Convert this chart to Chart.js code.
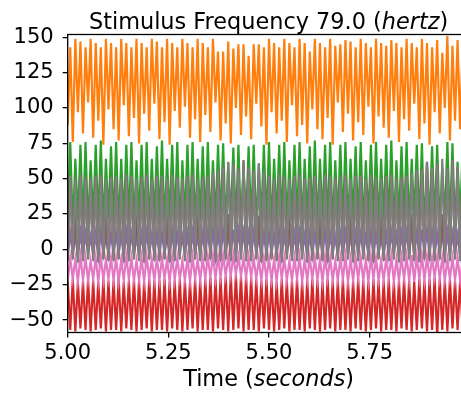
<!DOCTYPE html>
<html>
<head>
<meta charset="utf-8">
<script src="https://cdn.jsdelivr.net/npm/chart.js@4/dist/chart.umd.min.js"></script>
<style>
  html, body { margin: 0; padding: 0; background: #fff; overflow: hidden; }
  #wrap { width: 461px; height: 395px; overflow: hidden; }
</style>
</head>
<body>
<div id="wrap"><canvas id="stim" width="472" height="395"></canvas></div>
<script>
// sampling of the recorded traces
var startTime = 5.0;
var sampleRate = 158; // samples per second
var timeMin = 5.0, timeMax = 5.998;
var valueMin = -58.8, valueMax = 152;
var timeTicks = [5.00, 5.25, 5.50, 5.75];
var valueTicks = [-50, -25, 0, 25, 50, 75, 100, 125, 150];

// each trace is stored as its crest and trough values, one pair per cycle
var orangePeaks = [
  143,149,147,143,149,146,143,149,146,143,149,146,143,149,146,143,149,147,143,149,146,143,149,146,143,149,
  146,143,149,140,140,147,142,145,145,137,145,145,143,149,146,143,149,146,143,149,146,140,149,146,143,149,
  144,145,148,147,143,149,146,143,149,146,144,148,146,143,149,146,143,149,146,143,148,139,151,144,148,146
];
var orangeTroughs = [
  88,76,97,82,104,79,91,74,99,85,
  77,102,80,93,75,96,84,103,78,90,
  74,98,86,101,79,92,76,95,83,104,
  77,89,75,100,81,94,78,103,87,74,
  97,82,91,76,102,80,88,75,99,85,
  78,93,74,104,83,96,77,90,81,101,
  75,94,86,79,98,76,92,84,103,78,
  89,74,97,82,100,77,91,85
];
var greenPeaks = [
  76,64,74,76,63,74,77,64,73,76,
  64,74,76,63,74,76,64,73,77,64,
  74,76,63,74,76,64,73,76,63,74,
  75,61,72,74,58,73,74,60,74,76,
  64,74,76,63,74,76,64,73,77,64,
  74,76,63,74,76,64,73,76,63,74,
  76,64,74,77,63,73,76,64,74,75,
  60,73,74,58,76,75,62,74
];
var greenTroughs = [
  18,14,20,16,13,19,17,14,21,16,
  13,19,17,15,20,16,13,19,18,14,
  20,16,13,19,17,14,21,16,13,19,
  18,15,20,16,13,19,17,14,21,16,
  13,19,17,15,20,16,13,19,18,14,
  20,16,13,19,17,14,21,16,13,19,
  18,15,20,16,13,19,17,14,21,16,
  13,19,17,15,20,16,13,19
];
var redPeaks = [
  -22,-21,-23,-22,-21,-22,-23,-21,-22,-22,
  -21,-23,-22,-21,-22,-23,-21,-22,-22,-21,
  -23,-22,-21,-22,-23,-21,-22,-21,-20,-21,
  -20,-19,-18,-18,-19,-19,-20,-21,-22,-21,
  -22,-23,-21,-22,-22,-21,-23,-22,-21,-22,
  -23,-21,-22,-22,-21,-23,-22,-21,-22,-23,
  -21,-22,-22,-21,-23,-22,-21,-22,-23,-21,
  -22,-21,-20,-21,-22,-21,-22,-22
];
var redTroughs = [
  -57,-58,-56,-57,-58,-57,-56,-58,-57,-57,
  -58,-56,-57,-58,-57,-56,-58,-57,-57,-58,
  -56,-57,-58,-57,-56,-58,-57,-57,-58,-56,
  -57,-58,-57,-56,-58,-57,-57,-58,-56,-57,
  -58,-57,-56,-58,-57,-57,-58,-56,-57,-58,
  -57,-56,-58,-57,-57,-58,-56,-57,-58,-57,
  -56,-58,-57,-57,-58,-56,-57,-58,-57,-56,
  -58,-57,-61,-57,-58,-56,-57,-58
];
var purplePeaks = [
  11,10,12,11,9,11,12,10,11,11,
  10,12,11,9,11,12,10,11,11,10,
  12,11,9,11,12,10,11,12,13,12,
  13,12,14,13,12,11,12,10,11,11,
  10,12,11,9,11,12,10,11,11,10,
  12,11,9,11,12,10,11,11,10,12,
  11,9,11,12,10,11,12,13,12,14,
  13,12,11,13,12,11,10,11
];
var purpleTroughs = [
  -4,-3,-5,-4,-3,-4,-5,-3,-4,-4,
  -3,-5,-4,-3,-4,-5,-3,-4,-4,-3,
  -5,-4,-3,-4,-5,-3,-4,-4,-3,-5,
  -4,-3,-4,-5,-3,-4,-4,-3,-5,-4,
  -3,-4,-5,-3,-4,-4,-3,-5,-4,-3,
  -4,-5,-3,-4,-4,-3,-5,-4,-3,-4,
  -5,-3,-4,-4,-3,-5,-4,-3,-4,-5,
  -3,-4,-4,-3,-5,-4,-3,-4
];
var pinkPeaks = [
  -6,-7,-5,-6,-8,-6,-5,-7,-6,-6,
  -7,-5,-6,-8,-6,-5,-7,-6,-6,-7,
  -5,-6,-8,-6,-5,-7,-6,-5,-4,-5,
  -4,-5,-4,-5,-6,-5,-6,-7,-6,-6,
  -7,-5,-6,-8,-6,-5,-7,-6,-6,-7,
  -5,-6,-8,-6,-5,-7,-6,-6,-7,-5,
  -6,-8,-6,-5,-7,-6,-5,-4,-5,-4,
  -5,-6,-5,-6,-7,-6,-6,-7
];
var pinkTroughs = [
  -22,-21,-23,-22,-22,-21,-23,-22,-21,-22,
  -23,-22,-21,-22,-22,-23,-21,-22,-22,-21,
  -23,-22,-21,-22,-23,-21,-22,-21,-20,-21,
  -20,-19,-19,-18,-19,-20,-20,-21,-22,-21,
  -22,-23,-21,-22,-22,-21,-23,-22,-21,-22,
  -23,-21,-22,-22,-21,-23,-22,-21,-22,-23,
  -21,-22,-22,-21,-23,-22,-21,-22,-23,-21,
  -22,-21,-20,-21,-22,-21,-22,-22
];
var grayPeaks = [
  52,50,53,51,50,52,53,50,51,52,
  50,53,52,50,51,53,50,52,52,50,
  53,51,50,52,53,50,51,52,54,56,
  58,62,60,57,63,58,56,61,55,52,
  50,53,51,50,52,53,50,51,52,50,
  53,52,50,51,53,50,52,52,50,53,
  51,50,52,53,50,51,52,54,56,57,
  62,58,60,64,57,63,58,55
];
var grayTroughs = [
  -8,-7,-9,-8,-7,-8,-9,-7,-8,-8,
  -7,-9,-8,-7,-8,-9,-7,-8,-8,-7,
  -9,-8,-7,-8,-9,-7,-8,-8,-7,-9,
  -8,-7,-8,-9,-7,-8,-8,-7,-9,-8,
  -7,-8,-9,-7,-8,-8,-7,-9,-8,-7,
  -8,-9,-7,-8,-8,-7,-9,-8,-7,-8,
  -9,-7,-8,-8,-7,-9,-8,-7,-8,-9,
  -7,-8,-8,-7,-9,-8,-7,-8
];
// brown runs under the gray trace and only breaks away on some cycles
var brownPeaks = [
  52,25,53,51,50,52,53,25,51,52,
  50,53,52,24,51,53,50,52,52,25,
  53,51,50,52,53,26,51,52,54,56,
  58,25,60,57,63,58,56,24,55,52,
  50,53,51,25,52,53,50,51,52,25,
  53,52,50,51,53,24,52,52,50,53,
  51,26,52,53,50,51,52,25,56,57,
  62,58,60,25,57,63,58,55
];
var brownTroughs = [
  -8,-7,-9,-8,-7,-8,-9,-7,-8,-8,
  -7,-9,-8,-7,-8,-9,-7,-8,-8,-7,
  -9,-8,-7,-8,-9,-7,-8,-8,-7,-9,
  -8,-7,-8,-9,-7,-8,-8,-7,-9,-8,
  -7,-8,-9,-7,-8,-8,-7,-9,-8,-7,
  -8,-9,-7,-8,-8,-7,-9,-8,-7,-8,
  -9,-7,-8,-8,-7,-9,-8,-7,-8,-9,
  -7,-8,-8,-7,-9,-8,-7,-8
];

// even samples hold one list, odd samples the other
function interleave(evenVals, oddVals) {
  var pts = [];
  var n = evenVals.length + oddVals.length;
  for (var i = 0; i < n; i++) {
    var v = (i % 2 === 0) ? evenVals[i / 2] : oddVals[(i - 1) / 2];
    if (v === undefined) break;
    pts.push({x: startTime + i / sampleRate, y: v});
  }
  return pts;
}

// matplotlib draw order: first trace at the bottom
var traces = [
  {color: "#ff7f0e", data: interleave(orangeTroughs, orangePeaks)},
  {color: "#2ca02c", data: interleave(greenTroughs, greenPeaks)},
  {color: "#d62728", data: interleave(redPeaks, redTroughs)},
  {color: "#9467bd", data: interleave(purpleTroughs, purplePeaks)},
  {color: "#8c564b", data: interleave(brownTroughs, brownPeaks)},
  {color: "#e377c2", data: interleave(pinkTroughs, pinkPeaks)},
  {color: "#7f7f7f", data: interleave(grayTroughs, grayPeaks)}
];

var titleParts = [["Stimulus Frequency 79.0 (", false], ["hertz", true], [")", false]];
var xLabelParts = [["Time (", false], ["seconds", true], [")", false]];
var fontFamily = "'DejaVu Sans', sans-serif";

function drawRich(ctx, parts, cx, baseline, size) {
  var widths = [], total = 0;
  for (var i = 0; i < parts.length; i++) {
    ctx.font = (parts[i][1] ? "oblique " : "") + size + "px " + fontFamily;
    widths[i] = ctx.measureText(parts[i][0]).width;
    total += widths[i];
  }
  var x = cx - total / 2;
  ctx.fillStyle = "#000";
  ctx.textAlign = "left";
  ctx.textBaseline = "alphabetic";
  for (var j = 0; j < parts.length; j++) {
    ctx.font = (parts[j][1] ? "oblique " : "") + size + "px " + fontFamily;
    ctx.fillText(parts[j][0], x, baseline);
    x += widths[j];
  }
}

var frameAndTitles = {
  id: "frameAndTitles",
  afterDatasetsDraw: function(chart) {
    var ctx = chart.ctx, a = chart.chartArea;
    ctx.save();
    ctx.strokeStyle = "#000";
    ctx.lineWidth = 1.3;
    ctx.strokeRect(a.left, a.top, a.right - a.left, a.bottom - a.top);
    ctx.restore();
  },
  afterDraw: function(chart) {
    var ctx = chart.ctx, a = chart.chartArea;
    var cx = (a.left + a.right) / 2;
    ctx.save();
    drawRich(ctx, titleParts, cx, 28.5, 22.4);
    drawRich(ctx, xLabelParts, cx, 385.5, 22.4);
    ctx.restore();
  }
};

new Chart(document.getElementById("stim"), {
  type: "line",
  data: {
    datasets: traces.map(function(t, i) {
      return {
        data: t.data,
        borderColor: t.color,
        borderWidth: 2.2,
        pointRadius: 0,
        tension: 0,
        fill: false,
        order: traces.length - i
      };
    })
  },
  options: {
    responsive: false,
    animation: false,
    events: [],
    parsing: false,
    layout: {padding: {top: 34.5, right: 2.5, left: 0, bottom: 0}},
    plugins: {legend: {display: false}, title: {display: false}, tooltip: {enabled: false}},
    scales: {
      x: {
        type: "linear",
        min: timeMin,
        max: timeMax,
        afterFit: function(s) { s.height = 62.5; },
        afterBuildTicks: function(s) { s.ticks = timeTicks.map(function(v) { return {value: v}; }); },
        border: {display: false},
        grid: {drawOnChartArea: false, drawTicks: true, tickLength: 5, color: "#000", lineWidth: 1.3},
        ticks: {
          color: "#000",
          font: {family: fontFamily, size: 21},
          padding: 3,
          maxRotation: 0,
          autoSkip: false,
          callback: function(v) { return Number(v).toFixed(2); }
        }
      },
      y: {
        min: valueMin,
        max: valueMax,
        afterFit: function(s) { s.width = 67.7; },
        afterBuildTicks: function(s) { s.ticks = valueTicks.map(function(v) { return {value: v}; }); },
        border: {display: false},
        grid: {drawOnChartArea: false, drawTicks: true, tickLength: 5, color: "#000", lineWidth: 1.3},
        ticks: {
          color: "#000",
          font: {family: fontFamily, size: 21},
          padding: 9,
          autoSkip: false,
          callback: function(v) { return v < 0 ? "\u2212" + Math.abs(v) : String(v); }
        }
      }
    }
  },
  plugins: [frameAndTitles]
});
</script>
</body>
</html>
